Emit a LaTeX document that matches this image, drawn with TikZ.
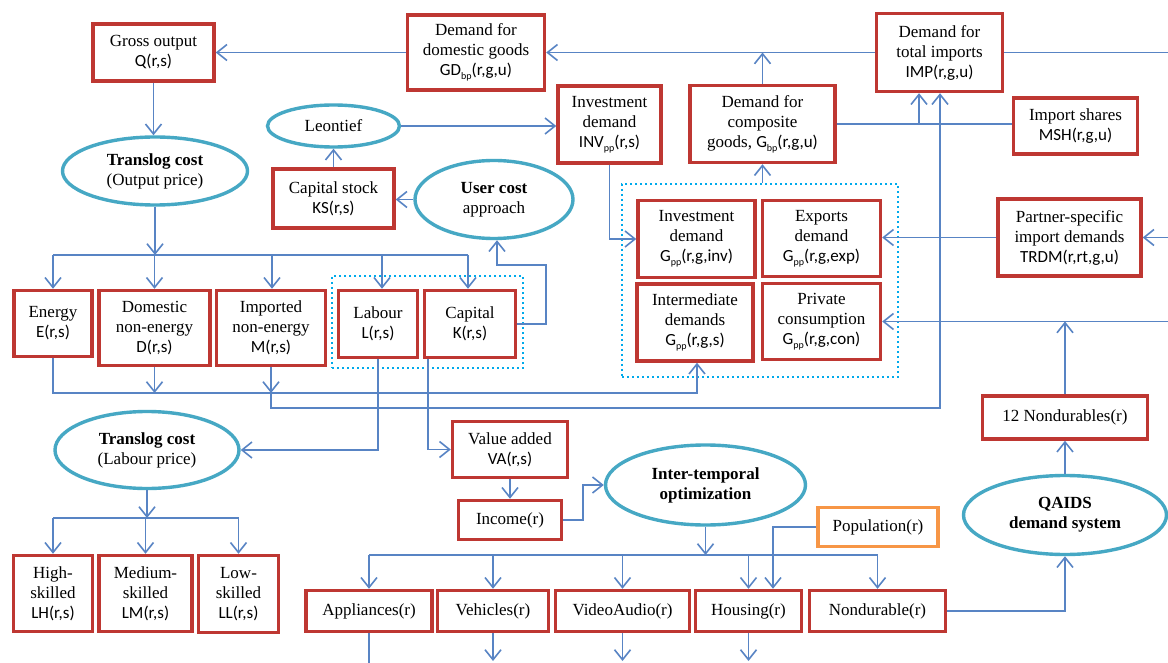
\documentclass[tikz,border=0pt]{standalone}
\usepackage{fontspec}
\setmainfont{Liberation Serif}
\newfontfamily\calib{Carlito}
\usetikzlibrary{shapes.geometric,arrows.meta}
\definecolor{boxred}{RGB}{190,55,50}
\definecolor{ellteal}{RGB}{70,168,196}
\definecolor{lineblue}{RGB}{88,132,196}
\definecolor{dotblue}{RGB}{0,170,235}
\definecolor{popor}{RGB}{247,150,70}
\newcommand\fm[1]{{\calib #1}}
\newcommand\sbs[1]{\raisebox{-0.5ex}{\fontsize{10}{10}\selectfont #1}}
\begin{document}
\begin{tikzpicture}[x=1pt,y=-1pt,
  every node/.style={font=\fontsize{17}{20}\selectfont},
  wh/.style 2 args={minimum width=#1pt, minimum height=#2pt},
  box/.style={draw=boxred, line width=3.4pt, fill=white, align=center, inner sep=0pt, rectangle},
  popbox/.style={box, draw=popor},
  ell/.style={draw=ellteal, line width=3.4pt, ellipse, fill=white, align=center, inner sep=0pt},
  ln/.style={draw=lineblue, line width=1.6pt},
  arr/.style={ln, -{Straight Barb[length=10pt,width=16pt]}},
  grp/.style={draw=dotblue, line width=2.4pt, dash pattern=on 2.4pt off 2.6pt, inner sep=0pt, rectangle}
]
\useasboundingbox[fill=white] (0,0) rectangle (1168,663);

% dotted groups
\node[grp, wh={191}{92}] (grp1) at (427.5,322) {};
\node[grp, wh={276}{193}] (grp2) at (760,280.5) {};

% top row
\node[box, wh={121}{57}] (gross) at (153.5,52.5) {Gross output\\\fm{Q(r,s)}};
\node[box, wh={137}{75}] (dom) at (476,52.5) {Demand for\\domestic goods\\\fm{GD\sbs{bp}(r,g,u)}};
\node[box, wh={126}{78}] (imp) at (939.5,52.5) {Demand for\\total imports\\\fm{IMP(r,g,u)}};
\node[box, wh={103}{77}] (inv) at (609.5,124.5) {Investment\\demand\\\fm{INV\sbs{pp}(r,s)}};
\node[box, wh={145}{77}] (comp) at (762.5,124) {Demand for\\composite\\goods, \fm{G\sbs{bp}(r,g,u)}};
\node[box, wh={124}{56}] (msh) at (1075.5,126) {Import shares\\\fm{MSH(r,g,u)}};
\node[ell, wh={132}{42}] (leon) at (333.5,126) {Leontief};
\node[box, wh={121}{59}] (ks) at (333.5,198.5) {Capital stock\\\fm{KS(r,s)}};
\node[ell, wh={158}{78}] (user) at (494,199.5) {\textbf{User cost}\\approach};
\node[ell, wh={185}{68}] (tout) at (155,171) {\textbf{Translog cost}\\(Output price)};

% factor row
\node[box, wh={78}{66}] (energy) at (53,323.5) {Energy\\\fm{E(r,s)}};
\node[box, wh={111}{75}] (domne) at (154.5,328) {Domestic\\non-energy\\\fm{D(r,s)}};
\node[box, wh={109}{75}] (impne) at (271,328) {Imported\\non-energy\\\fm{M(r,s)}};
\node[box, wh={79}{67}] (labour) at (378,324) {Labour\\\fm{L(r,s)}};
\node[box, wh={91}{67}] (capital) at (470,324) {Capital\\\fm{K(r,s)}};

% right group
\node[box, wh={117}{77}] (ginv) at (696.5,239) {Investment\\demand\\\fm{G\sbs{pp}(r,g,inv)}};
\node[box, wh={116}{77}] (ginter) at (695,322.5) {Intermediate\\demands\\\fm{G\sbs{pp}(r,g,s)}};
\node[box, wh={118}{76}] (gexp) at (821.5,238.5) {Exports\\demand\\\fm{G\sbs{pp}(r,g,exp)}};
\node[box, wh={118}{76}] (gcon) at (821.5,321.5) {Private\\consumption\\\fm{G\sbs{pp}(r,g,con)}};
\node[box, wh={143}{77}] (trdm) at (1069.5,237.5) {Partner-specific\\import demands\\\fm{TRDM(r,rt,g,u)}};

% labour branch
\node[ell, wh={184}{77}] (tlab) at (147,450) {\textbf{Translog cost}\\(Labour price)};
\node[box, wh={79}{76}] (hs) at (53,593.5) {High-\\skilled\\\fm{LH(r,s)}};
\node[box, wh={93}{76}] (ms) at (145.5,593.5) {Medium-\\skilled\\\fm{LM(r,s)}};
\node[box, wh={80}{77}] (ls) at (238.5,594) {Low-\\skilled\\\fm{LL(r,s)}};

% income branch
\node[box, wh={115}{56}] (va) at (510,449.5) {Value added\\\fm{VA(r,s)}};
\node[box, wh={103}{39}] (income) at (510,520) {Income(r)};
\node[ell, wh={200}{80}] (inter) at (705.5,485) {\textbf{Inter-temporal}\\\textbf{optimization}};
\node[popbox, wh={120}{39}] (pop) at (878,527) {Population(r)};
\node[box, wh={126}{41}] (appl) at (369,611) {Appliances(r)};
\node[box, wh={111}{41}] (veh) at (493,611) {Vehicles(r)};
\node[box, wh={134}{41}] (vid) at (622.5,611) {VideoAudio(r)};
\node[box, wh={106}{41}] (hous) at (748.5,611) {Housing(r)};
\node[box, wh={136}{41}] (nond) at (877.5,611) {Nondurable(r)};
\node[ell, wh={203}{79}] (qaids) at (1065,515) {\textbf{QAIDS}\\\textbf{demand system}};
\node[box, wh={165}{43}] (n12) at (1065,417.5) {12 Nondurables(r)};

% free ends at the picture's edge
\coordinate (eR1) at (1168,52.5);
\coordinate (eR2) at (1168,237.5);
\coordinate (eR3) at (1168,321.5);
\coordinate (jB) at (0,663);
\coordinate (jA) at (0,661);

% connectors: top
\draw[arr] (dom.west) -- (dom.west -| gross.east);
\draw[arr] (imp.west) -- (imp.west -| dom.east);
\draw[ln] (imp.east) -- (eR1);
\draw[arr] (comp.north) -- (comp.north |- imp.west);
\draw[ln] (comp.east) -- (comp.east -| msh.west);
\draw[arr] (919,124) -- (919,0 |- imp.south);
\draw[arr] (leon.east) -- (leon.east -| inv.west);
\draw[arr] (ks.north) -- (ks.north |- leon.south);
\draw[arr] (user.west) -- (user.west -| ks.east);
\draw[arr] (gross.south) -- (gross.south |- tout.north);
\draw[arr] (grp2.north -| comp.south) -- (comp.south);
\draw[arr] (inv.south) -- (inv.south |- ginv.west) -- (ginv.west);
\draw[arr] (eR2) -- (trdm.east);
\draw[arr] (trdm.west) -- (trdm.west -| gexp.east);
\draw[arr] (eR3) -- (gcon.east);

% output translog branch
\draw[arr] (tout.south) -- (tout.south |- 0,255);
\draw[ln] (53,255) -- (468,255);
\foreach \xx/\n in {53/energy,154.5/domne,272/impne,382/labour,468/capital}
  \draw[arr] (\xx,255) -- (\xx,0 |- \n.north);
\draw[arr] (capital.east) -- (546,324) -- (546,265) -- (497,265) -- (497,0 |- user.south);

% lower links of factor row
\draw[arr] (energy.south) -- (energy.south |- 0,393) -- (697,393) -- (697,0 |- ginter.south);
\draw[arr] (domne.south) -- (domne.south |- 0,393);
\draw[arr] (impne.south) -- (impne.south |- 0,393);
\draw[arr] (impne.south) -- (impne.south |- 0,408) -- (940,408) -- (940,0 |- imp.south);
\draw[arr] (labour.south) -- (labour.south |- tlab.east) -- (tlab.east);
\draw[arr] (428,0 |- capital.south) -- (428,0 |- va.west) -- (va.west);

% labour translog branch
\draw[arr] (tlab.south) -- (tlab.south |- 0,518);
\draw[ln] (53,518) -- (238.5,518);
\foreach \n in {hs,ms,ls}
  \draw[arr] (\n.north |- 0,518) -- (\n.north);

% income branch
\draw[arr] (va.south) -- (income.north);
\draw[arr] (income.east) -- (583,520) -- (583,485) -- (inter.west);
\draw[arr] (inter.south) -- (inter.south |- 0,555);
\draw[ln] (369,555) -- (877.5,555);
\foreach \n in {appl,veh,vid,hous,nond}
  \draw[arr] (\n.north |- 0,555) -- (\n.north);
\draw[arr] (pop.west) -- (773,527) -- (773,0 |- hous.north);
\draw[arr] (nond.east) -- (nond.east -| qaids.south) -- (qaids.south);
\draw[arr] (qaids.north) -- (n12.south);
\draw[arr] (n12.north) -- (n12.north |- eR3);

% exits at the bottom edge
\draw[ln] (appl.south) -- (appl.south |- jB);
\draw[arr] (veh.south) -- (veh.south |- jA);
\draw[arr] (vid.south) -- (vid.south |- jA);
\draw[arr] (hous.south) -- (hous.south |- jA);
\end{tikzpicture}
\end{document}
